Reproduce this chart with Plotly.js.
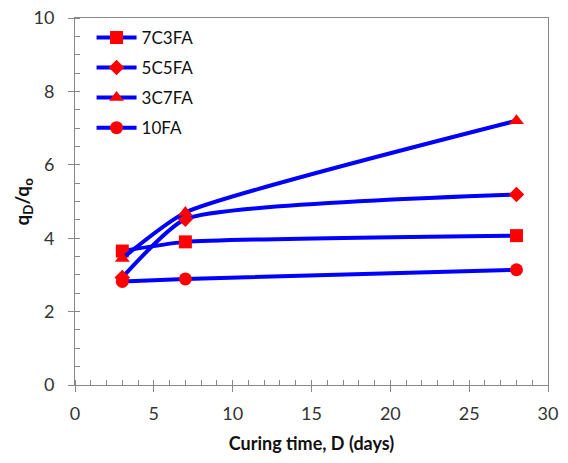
<!DOCTYPE html>
<html>
<head>
<meta charset="utf-8">
<script src="https://cdn.plot.ly/plotly-3.0.1.min.js"></script>
<style>html,body{margin:0;padding:0;background:#fff;}#chart{width:568px;height:463px;}</style>
</head>
<body>
<div id="chart"></div>
<script>
var days = [3, 7, 28];
var seriesNames = ["7C3FA", "5C5FA", "3C7FA", "10FA"];
var s7C3FA = [3.65, 3.90, 4.07];
var s5C5FA = [2.93, 4.52, 5.19];
var s3C7FA = [3.45, 4.70, 7.20];
var s10FA  = [2.82, 2.89, 3.14];
var symbols = ["square", "diamond", "triangle-up", "circle"];
var sizes = [13, 12, 13, 13];
var allValues = [s7C3FA, s5C5FA, s3C7FA, s10FA];

var traces = allValues.map(function(v, i) {
  return {
    x: days, y: v, name: seriesNames[i], legendgroup: "g" + i, type: "scatter", mode: "lines+markers",
    line: {color: "#0000FF", width: 4, shape: "spline", smoothing: 0.5},
    marker: {color: "#FF0000", symbol: symbols[i], size: sizes[i]}
  };
});

var fam = "Lato, 'Open Sans', sans-serif";
var axisFont = {family: fam, size: 18, color: "#333"};
var layout = {
  width: 568, height: 463,
  margin: {l: 75, r: 20, t: 18, b: 78},
  paper_bgcolor: "#fff", plot_bgcolor: "#fff",
  showlegend: true,
  legend: {x: 0.035, y: 0.995, xanchor: "left", yanchor: "top", bgcolor: "rgba(0,0,0,0)",
           font: {family: fam, size: 17, color: "#111"},
           tracegroupgap: 5, itemwidth: 40},
  xaxis: {
    range: [0, 30], dtick: 5, tick0: 0, showgrid: false, zeroline: false,
    showline: true, linecolor: "#888", linewidth: 1, mirror: true,
    ticks: "outside", ticklen: 6, tickcolor: "#888", ticklabelstandoff: 6,
    minor: {dtick: 1, ticks: "inside", ticklen: 5, tickcolor: "#888"},
    tickfont: axisFont,
    title: {text: "<b>Curing time, D (days)</b>", font: {family: fam, size: 18, color: "#111"}, standoff: 14}
  },
  yaxis: {
    range: [0, 10], dtick: 2, tick0: 0, showgrid: false, zeroline: false,
    showline: true, linecolor: "#888", linewidth: 1, mirror: true,
    ticks: "outside", ticklen: 6, tickcolor: "#888", ticklabelstandoff: 10,
    minor: {dtick: 0.5, ticks: "inside", ticklen: 5, tickcolor: "#888"},
    tickfont: axisFont
  },
  annotations: [{
    text: "<b>q<sub>D</sub>/q<sub>o</sub></b>", xref: "paper", yref: "paper",
    x: -0.112, y: 0.5, xanchor: "center", yanchor: "middle", textangle: -90, showarrow: false,
    font: {family: fam, size: 19, color: "#111"}
  }]
};
Plotly.newPlot("chart", traces, layout, {displayModeBar: false, staticPlot: true});
</script>
</body>
</html>
